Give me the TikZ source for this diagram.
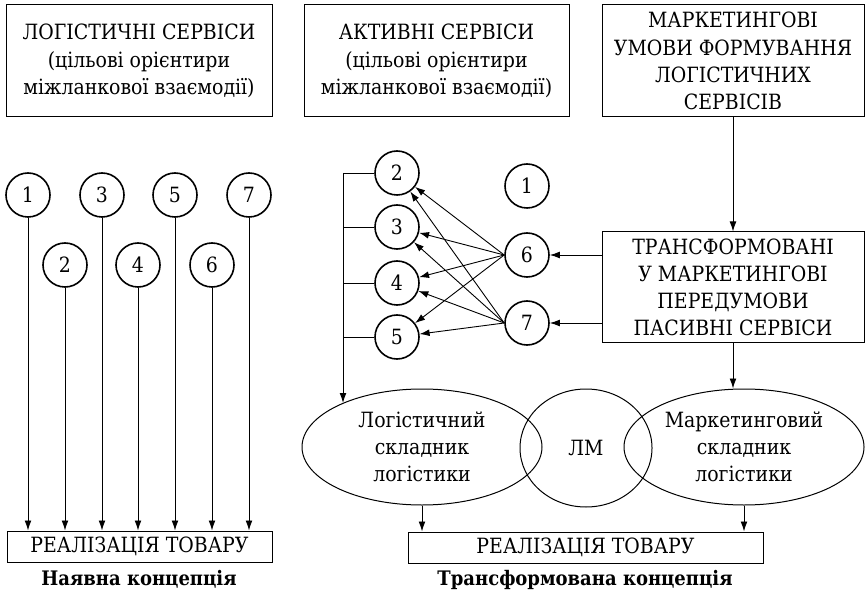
\documentclass[tikz,border=0pt]{standalone}
\usepackage{fontspec}
\setmainfont{DejaVu Serif}[FakeStretch=0.9]
\usetikzlibrary{positioning}
\usetikzlibrary{shapes.geometric,arrows.meta}

\begin{document}
\begin{tikzpicture}[x=0.5pt,y=-0.5pt,font=\fontsize{10.5}{13.6}\selectfont,
 box/.style={draw,line width=0.5pt,align=center,inner sep=0pt},
 srv/.style={draw,circle,line width=0.8pt,minimum size=22pt,inner sep=0pt},
 oval/.style={draw,ellipse,line width=0.5pt,align=center,inner sep=0pt},
 capt/.style={font=\fontsize{10}{12}\selectfont\bfseries},
 arr/.style={-{Latex[length=5pt,width=3.4pt]},line width=0.45pt}]
 \useasboundingbox (0,0) rectangle (865,592);
 \node[box,minimum width=133pt,minimum height=56pt] (logs) at (139,61) {ЛОГІСТИЧНІ СЕРВІСИ\\(цільові орієнтири\\міжланкової взаємодії)};
 \node[box,minimum width=132.5pt,minimum height=56pt] (akt) at (436.5,61) {АКТИВНІ СЕРВІСИ\\(цільові орієнтири\\міжланкової взаємодії)};
 \node[box,minimum width=131pt,minimum height=56pt] (umovy) at (733,61) {МАРКЕТИНГОВІ\\УМОВИ ФОРМУВАННЯ\\ЛОГІСТИЧНИХ\\СЕРВІСІВ};
 \node[box,minimum width=131pt,minimum height=55.5pt] (pas) at (733,287.5) {ТРАНСФОРМОВАНІ\\У МАРКЕТИНГОВІ\\ПЕРЕДУМОВИ\\ПАСИВНІ СЕРВІСИ};
 \node[box,minimum width=132.5pt,minimum height=15.5pt] (realL) at (139.5,546.5) {РЕАЛІЗАЦІЯ ТОВАРУ};
 \node[box,minimum width=177.5pt,minimum height=15.5pt] (realR) at (585.5,547.5) {РЕАЛІЗАЦІЯ ТОВАРУ};
 \node[capt] (nayav) at (139,579) {Наявна концепція};
 \node[capt] (trans) at (585,580) {Трансформована концепція};
 \foreach \n/\x/\y in {1/28/195,2/65/265,3/102/195,4/138/265,5/175/195,6/212/265,7/249/195}{
  \node[srv] (l\n) at (\x,\y) {\n};
  \draw[arr] (l\n) -- (l\n |- realL.north);
 }
 \node[srv] (a1) at (527,186) {1};
 \node[srv] (a2) at (397,173) {2};
 \node[srv] (a3) at (397,227) {3};
 \node[srv] (a4) at (397,283) {4};
 \node[srv] (a5) at (397,337) {5};
 \node[srv] (a6) at (527,255) {6};
 \node[srv] (a7) at (527,323) {7};
 \node[oval,minimum width=120pt,minimum height=58pt] (lel) at (422,447) {Логістичний\\складник\\логістики};
 \node[oval,minimum width=66pt,minimum height=59pt] (lm) at (586,448) {ЛМ};
 \node[oval,minimum width=120pt,minimum height=58pt] (mel) at (744,447) {Маркетинговий\\складник\\логістики};
 \foreach \s in {6,7}
  \foreach \t in {2,...,5}
   \draw[arr] (a\s.west) -- (a\t);
 \coordinate (brk) at (343,173);
 \coordinate (lin) at (343,403);
 \foreach \t in {2,...,5}
  \draw[line width=0.45pt] (a\t.west) -- (a\t.west -| brk);
 \draw[arr] (brk) -- (lin);
 \draw[arr] (pas.west |- a6) -- (a6);
 \draw[arr] (pas.west |- a7) -- (a7);
 \draw[arr] (umovy) -- (pas);
 \draw[arr] (pas) -- (pas |- mel.north);
 \draw[arr] (lel.south) -- (lel.south |- realR.north);
 \draw[arr] (mel.south) -- (mel.south |- realR.north);
\end{tikzpicture}
\end{document}
